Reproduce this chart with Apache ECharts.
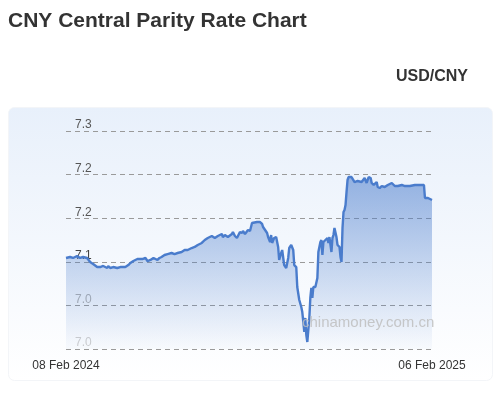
<!DOCTYPE html>
<html>
<head>
<meta charset="utf-8">
<script src="https://cdn.jsdelivr.net/npm/echarts@6/dist/echarts.min.js"></script>
<style>
  html, body { margin: 0; padding: 0; background: #fff; }
  #chart { width: 500px; height: 402px; }
</style>
</head>
<body>
<div id="chart"></div>
<script>
// days since 08 Feb 2024 and central parity rate
const days = [0, 4, 7, 11, 14, 17, 21, 24, 27, 31, 32, 34, 37, 41, 42, 44, 47, 51, 54, 59,
  62, 64, 67, 71, 76, 79, 81, 84, 87, 91, 93, 95, 98, 101, 105, 108, 111, 115, 118, 121,
  125, 128, 131, 135, 138, 141, 145, 146, 148, 151, 155, 156, 158, 161, 165, 166, 168, 170, 173, 175,
  176, 178, 181, 183, 185, 186, 190, 191, 193, 195, 196, 198, 200, 201, 203, 204, 205, 207, 209, 211,
  212, 214, 215, 217, 219, 221, 222, 224, 226, 227, 229, 230, 232, 234, 235, 236, 237, 238, 239, 240,
  241, 242, 243, 244, 245, 246, 248, 250, 251, 253, 254, 255, 256, 258, 260, 261, 262, 264, 265, 266,
  267, 269, 270, 272, 273, 274, 275, 276, 277, 278, 279, 280, 281, 282, 284, 285, 287, 290, 294, 297,
  299, 301, 303, 304, 306, 309, 310, 312, 314, 317, 320, 324, 327, 330, 334, 337, 342, 347, 352, 356,
  357, 360, 364];
const rates = [7.1044, 7.1055, 7.1044, 7.1067, 7.1044, 7.1055, 7.1044, 7.0998, 7.0975, 7.0940, 7.0952, 7.0940, 7.0952, 7.0929, 7.0952, 7.0929, 7.0940, 7.0929, 7.0940, 7.0940,
  7.0963, 7.0986, 7.1009, 7.1032, 7.1032, 7.1044, 7.1009, 7.1021, 7.1044, 7.1021, 7.1044, 7.1055, 7.1078, 7.1089, 7.1101, 7.1089, 7.1101, 7.1112, 7.1135, 7.1135,
  7.1158, 7.1170, 7.1193, 7.1216, 7.1250, 7.1273, 7.1296, 7.1284, 7.1273, 7.1296, 7.1319, 7.1284, 7.1307, 7.1284, 7.1319, 7.1342, 7.1296, 7.1273, 7.1342, 7.1330,
  7.1353, 7.1319, 7.1365, 7.1353, 7.1445, 7.1456, 7.1456, 7.1445, 7.1456, 7.1434, 7.1399, 7.1365, 7.1330, 7.1284, 7.1227, 7.1307, 7.1216, 7.1273, 7.1284, 7.1170,
  7.1021, 7.1101, 7.1135, 7.0963, 7.0929, 7.1044, 7.1158, 7.1193, 7.1135, 7.0963, 7.0940, 7.0711, 7.0562, 7.0482, 7.0424, 7.0310, 7.0195, 7.0356, 7.0161, 7.0080,
  7.0069, 7.0356, 7.0585, 7.0700, 7.0585, 7.0711, 7.0711, 7.0814, 7.1112, 7.1227, 7.1250, 7.1078, 7.1227, 7.1250, 7.1273, 7.1216, 7.1284, 7.1112, 7.1273, 7.1307,
  7.1388, 7.1284, 7.1193, 7.1170, 7.1055, 7.0998, 7.1388, 7.1571, 7.1594, 7.1651, 7.1800, 7.1938, 7.1972, 7.1984, 7.1972, 7.1961, 7.1915, 7.1927, 7.1915, 7.1961,
  7.1904, 7.1972, 7.1961, 7.1904, 7.1881, 7.1915, 7.1858, 7.1846, 7.1869, 7.1858, 7.1881, 7.1904, 7.1869, 7.1869, 7.1881, 7.1869, 7.1869, 7.1881, 7.1881, 7.1881,
  7.1732, 7.1732, 7.1709];

const xLabels = ['08 Feb 2024', '06 Feb 2025'];
const yTickLabels = ['7.0', '7.0', '7.1', '7.2', '7.2', '7.3'];
const yLabelColors = ['#cfcfcf', '#b0b0b0', '#444', '#555', '#555', '#555'];

let chartDom = document.getElementById('chart');
let myChart = echarts.init(chartDom);

let option = {
    backgroundColor: '#fff',
    animation: false,
    title: {
        text: 'CNY Central Parity Rate Chart',
        left: 3,
        top: 6,
        textStyle: {
            fontFamily: 'Liberation Sans, Arial, sans-serif',
            fontSize: 21,
            fontWeight: 'bold',
            color: '#333'
        }
    },
    graphic: [
        {
            type: 'rect',
            left: 8,
            top: 107,
            z: -10,
            shape: { width: 484, height: 273, r: 6 },
            style: {
                fill: new echarts.graphic.LinearGradient(0, 0, 0, 1, [
                    { offset: 0, color: '#e8f0fb' },
                    { offset: 1, color: '#ffffff' }
                ]),
                stroke: '#f3f5f8',
                lineWidth: 1
            }
        },
        {
            type: 'text',
            right: 32,
            top: 69,
            style: {
                text: 'USD/CNY',
                font: 'bold 16px "Liberation Sans", Arial, sans-serif',
                fill: '#333'
            }
        },
        {
            type: 'text',
            left: 302,
            top: 315,
            z: 100,
            style: {
                text: 'chinamoney.com.cn',
                font: '15px "Liberation Sans", Arial, sans-serif',
                fill: 'rgba(190, 190, 190, 0.85)'
            }
        }
    ],
    grid: {
        left: 66,
        right: 68,
        top: 131,
        bottom: 53
    },
    xAxis: {
        type: 'value',
        min: 0,
        max: 364,
        interval: 364,
        axisLine: { show: false },
        axisTick: { show: false },
        splitLine: { show: false },
        axisLabel: {
            color: '#333',
            fontSize: 12,
            fontFamily: 'Liberation Sans, Arial, sans-serif',
            margin: 11,
            formatter(v) {
                return v === 0 ? xLabels[0] : xLabels[1];
            }
        }
    },
    yAxis: {
        type: 'value',
        min: 7.0,
        max: 7.25,
        interval: 0.05,
        axisLine: { show: false },
        axisTick: { show: false },
        splitLine: {
            lineStyle: {
                type: [5, 4],
                color: '#9a9a9a',
                width: 1
            }
        },
        axisLabel: {
            inside: true,
            margin: 9,
            verticalAlign: 'bottom',
            fontSize: 12,
            fontFamily: 'Liberation Sans, Arial, sans-serif',
            formatter(v, i) {
                return yTickLabels[i];
            },
            color(v, i) {
                return yLabelColors[i];
            }
        }
    },
    series: [
        {
            type: 'line',
            data: days.map((d, i) => [d, rates[i]]),
            showSymbol: false,
            smooth: false,
            lineStyle: {
                color: '#4a7ccc',
                width: 2.4
            },
            areaStyle: {
                color: new echarts.graphic.LinearGradient(0, 0, 0, 1, [
                    { offset: 0, color: 'rgba(74, 124, 204, 0.8)' },
                    { offset: 1, color: 'rgba(74, 124, 204, 0.04)' }
                ])
            }
        }
    ]
};
option && myChart.setOption(option);
</script>
</body>
</html>
